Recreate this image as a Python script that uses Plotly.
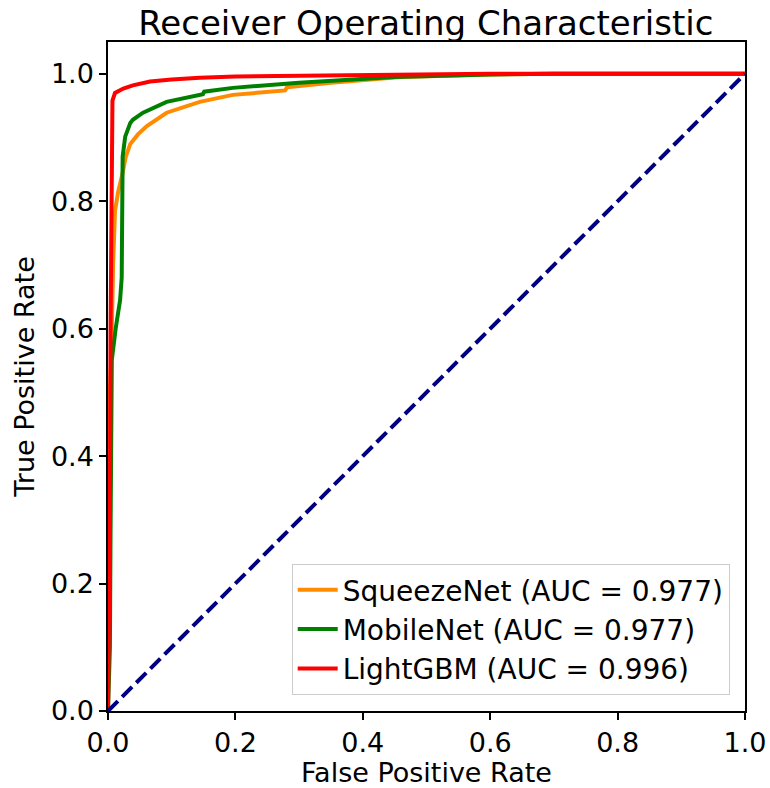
import plotly.graph_objects as go

# ROC curve points
squeeze_fpr = [0, 0.002, 0.003, 0.005, 0.006, 0.008, 0.011, 0.016, 0.022, 0.028, 0.035, 0.047, 0.061, 0.092, 0.144, 0.196, 0.278, 0.281, 0.35, 0.46, 0.6, 0.7, 1.0]
squeeze_tpr = [0, 0.30, 0.50, 0.551, 0.62, 0.70, 0.785, 0.815, 0.840, 0.870, 0.890, 0.905, 0.918, 0.939, 0.956, 0.967, 0.974, 0.979, 0.986, 0.995, 0.999, 1.0, 1.0]

mobile_fpr = [0, 0.003, 0.004, 0.005, 0.006, 0.012, 0.019, 0.0215, 0.0225, 0.023, 0.027, 0.035, 0.039, 0.055, 0.092, 0.149, 0.151, 0.196, 0.30, 0.45, 0.6, 0.7, 1.0]
mobile_tpr = [0, 0.10, 0.28, 0.45, 0.551, 0.60, 0.645, 0.68, 0.75, 0.870, 0.9015, 0.923, 0.928, 0.939, 0.956, 0.968, 0.972, 0.978, 0.986, 0.995, 0.999, 1.0, 1.0]

lgbm_fpr = [0, 0.003, 0.004, 0.005, 0.006, 0.007, 0.011, 0.024, 0.039, 0.066, 0.10, 0.144, 0.20, 0.317, 0.32, 0.45, 0.6, 1.0]
lgbm_tpr = [0, 0.30, 0.60, 0.85, 0.93, 0.958, 0.970, 0.977, 0.982, 0.988, 0.991, 0.994, 0.996, 0.997, 0.998, 0.999, 1.0, 1.0]

names = ["SqueezeNet (AUC = 0.977)", "MobileNet (AUC = 0.977)", "LightGBM (AUC = 0.996)"]
colors = ["darkorange", "green", "red"]

diag = [0, 1]

fig = go.Figure()
for fx, ty, nm, c in zip([squeeze_fpr, mobile_fpr, lgbm_fpr],
                         [squeeze_tpr, mobile_tpr, lgbm_tpr], names, colors):
    fig.add_trace(go.Scatter(x=fx, y=ty, mode="lines", name=nm,
                             line=dict(color=c, width=4)))
fig.add_trace(go.Scatter(x=diag, y=diag, mode="lines", showlegend=False,
                         line=dict(color="navy", width=4, dash="14px,6px")))

font = "DejaVu Sans, sans-serif"
axis_common = dict(
    showline=True, linecolor="black", linewidth=1.5, mirror=True,
    ticks="outside", ticklen=7, tickwidth=1.5, tickcolor="black",
    showgrid=False, zeroline=False, tickformat=".1f", automargin=False,
    tickfont=dict(family=font, size=27, color="black"),
)
fig.update_layout(
    width=770, height=788,
    margin=dict(l=108, r=25, t=42, b=77),
    paper_bgcolor="white", plot_bgcolor="white",
    font=dict(family=font, color="black"),
    title=dict(text="Receiver Operating Characteristic", x=0.553, xanchor="center",
               y=1 - 23 / 788, yanchor="middle", yref="container",
               font=dict(family=font, size=34, color="black")),
    xaxis=dict(range=[0, 1], tickvals=[0, 0.2, 0.4, 0.6, 0.8, 1.0],
               title=dict(text="False Positive Rate", standoff=8,
                          font=dict(family=font, size=27, color="black")),
               **axis_common),
    yaxis=dict(range=[0, 1.05], tickvals=[0, 0.2, 0.4, 0.6, 0.8, 1.0],
               title=dict(text="True Positive Rate", standoff=8,
                          font=dict(family=font, size=27, color="black")),
               **axis_common),
    legend=dict(x=0.976, y=0.024, xanchor="right", yanchor="bottom",
                bgcolor="rgba(255,255,255,0.8)", bordercolor="#cccccc", borderwidth=1,
                font=dict(family=font, size=28, color="black"),
                itemwidth=40),
)
fig.write_html("out.html")
